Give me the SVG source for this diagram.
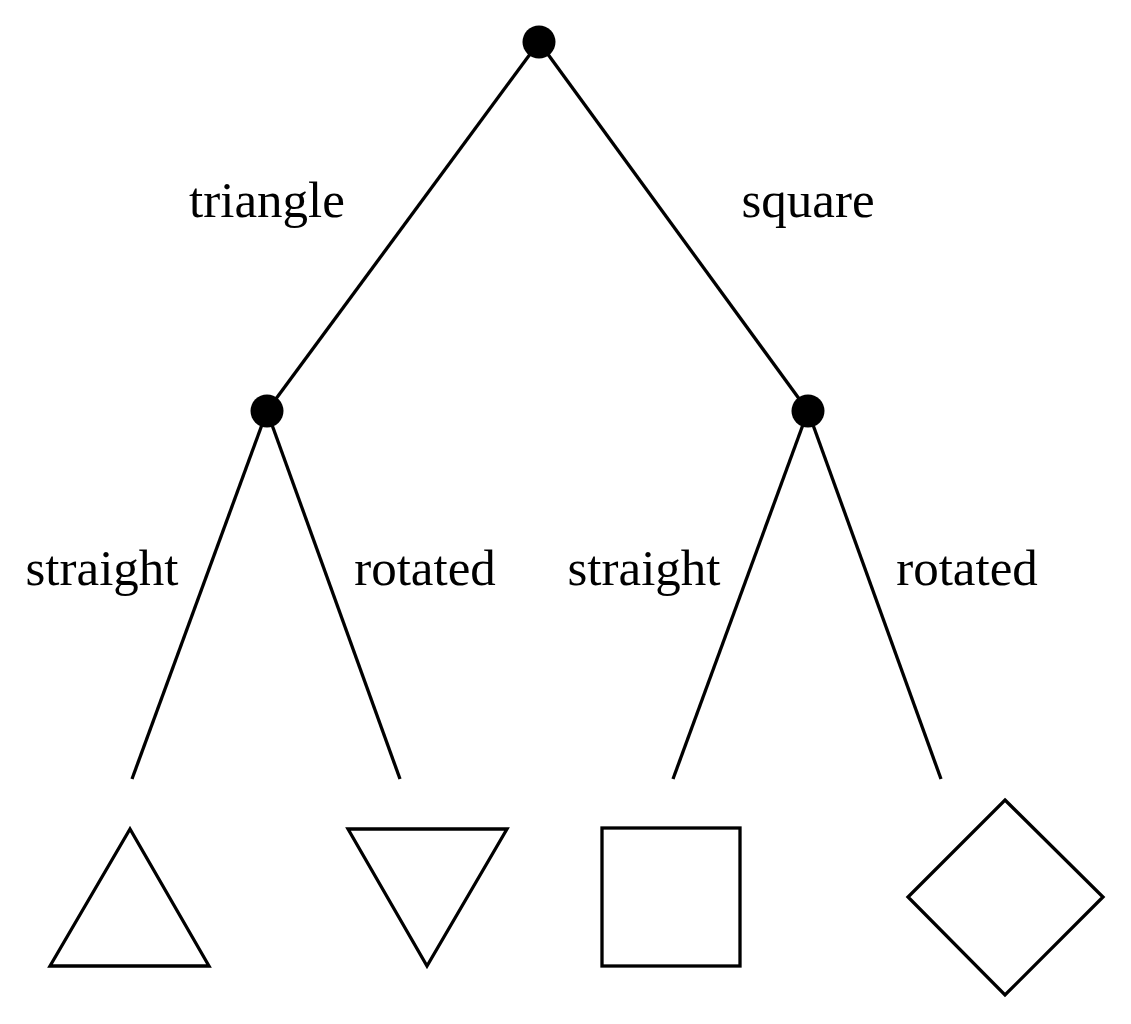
<svg xmlns="http://www.w3.org/2000/svg" width="1131" height="1024" viewBox="0 0 1131 1024">
<style>
.e{stroke:#000;stroke-width:3.3;fill:none}
.n{fill:#000}
.s{stroke:#000;stroke-width:3.3;fill:#fff}
.l{font-family:"Liberation Serif","Times New Roman",serif;font-size:51px;fill:#000;text-anchor:middle}
</style>
<rect width="1131" height="1024" fill="#fff"/>
<g id="connectors">
<line class="e" x1="539" y1="42" x2="267" y2="411"/>
<line class="e" x1="539" y1="42" x2="808" y2="411"/>
<line class="e" x1="267" y1="411" x2="132" y2="779"/>
<line class="e" x1="267" y1="411" x2="400" y2="779"/>
<line class="e" x1="808" y1="411" x2="673" y2="779"/>
<line class="e" x1="808" y1="411" x2="941" y2="779"/>
<text class="l" x="267" y="217">triangle</text>
<text class="l" x="808" y="217">square</text>
<text class="l" x="102" y="585">straight</text>
<text class="l" x="425" y="585">rotated</text>
<text class="l" x="644" y="585">straight</text>
<text class="l" x="967" y="585">rotated</text>
</g>
<g id="root"><circle class="n" cx="539" cy="42" r="16.5"/></g>
<g id="n-triangle"><circle class="n" cx="267" cy="411" r="16.5"/></g>
<g id="n-square"><circle class="n" cx="808" cy="411" r="16.5"/></g>
<g id="leaf-triangle-straight"><polygon class="s" points="130,829 50,966 209,966"/></g>
<g id="leaf-triangle-rotated"><polygon class="s" points="348,829 507,829 427,966"/></g>
<g id="leaf-square-straight"><rect class="s" x="602" y="828" width="138" height="138"/></g>
<g id="leaf-square-rotated"><polygon class="s" points="1005,800 1103,897 1005,995 908,897"/></g>
</svg>
